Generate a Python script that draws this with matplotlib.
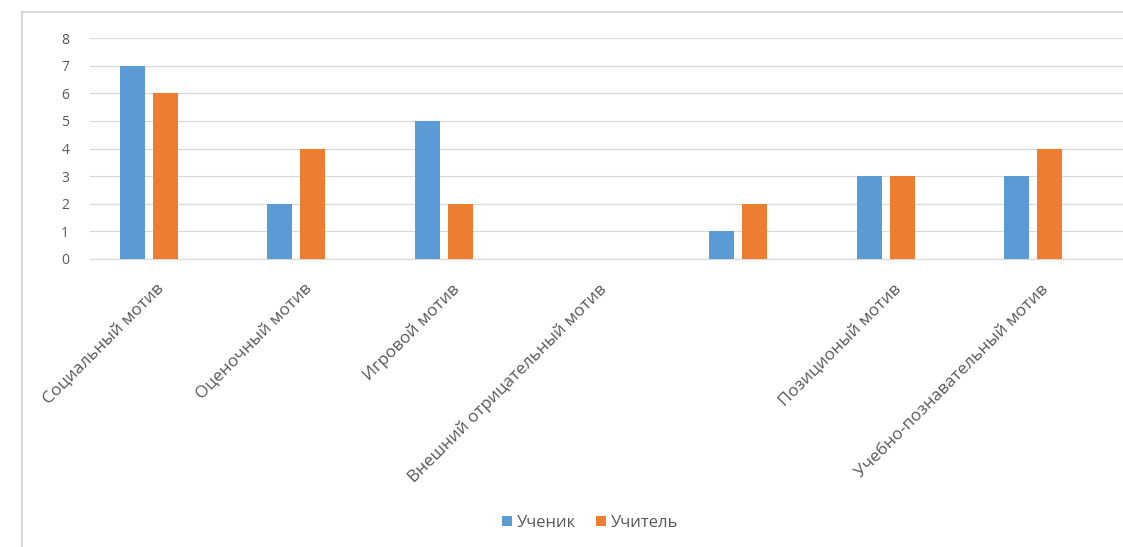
import matplotlib
matplotlib.use("Agg")
import matplotlib.pyplot as plt
import matplotlib.transforms as mtransforms
import numpy as np

plt.rcParams['font.family'] = ['Open Sans', 'DejaVu Sans']

categories = ["Социальный мотив", "Оценочный мотив", "Игровой мотив",
              "Внешний отрицательный мотив", "", "Позиционый мотив",
              "Учебно-познавательный мотив"]
student = [7, 2, 5, 0, 1, 3, 3]
teacher = [6, 4, 2, 0, 2, 3, 4]
series_names = ["Ученик", "Учитель"]
yticks = [0, 1, 2, 3, 4, 5, 6, 7, 8]

W, H = 1123, 547
fig = plt.figure(figsize=(W / 100, H / 100), dpi=100)
ax = fig.add_axes([90 / W, (H - 259) / H, (W - 90) / W, (259 - 38) / H])

x = np.arange(len(categories))
bw = 0.17
off = 0.112
blue = "#5b9bd5"
orange = "#ed7d31"
ax.bar(x - off, student, bw, color=blue, label=series_names[0], zorder=3)
ax.bar(x + off, teacher, bw, color=orange, label=series_names[1], zorder=3)

ax.set_xlim(-0.40, 6.61)
ax.set_ylim(0, 8)
ax.set_yticks(yticks)
ax.yaxis.grid(True, color="#d9d9d9", linewidth=0.9, zorder=0)
ax.set_axisbelow(True)
for s in ["top", "right", "left"]:
    ax.spines[s].set_visible(False)
ax.spines["bottom"].set_color("#d9d9d9")
ax.spines["bottom"].set_linewidth(0.9)

ax.tick_params(axis="y", length=0, pad=15, labelsize=10, labelcolor="#595959")
ax.tick_params(axis="x", length=0, pad=16, labelsize=12.3, labelcolor="#595959")
ax.set_xticks(x)
ax.set_xticklabels(categories, rotation=45, ha="right", va="top")
shift = mtransforms.ScaledTranslation(19 / 100, 0, fig.dpi_scale_trans)
for lab in ax.get_xticklabels():
    lab.set_transform(lab.get_transform() + shift)

leg = fig.legend(loc="center", bbox_to_anchor=(590 / W, 1 - 523 / H), ncol=2,
                 frameon=False, fontsize=12, handlelength=0.6, handleheight=0.6,
                 handletextpad=0.3, columnspacing=1.2)
for t in leg.get_texts():
    t.set_color("#595959")

# chart area border (left and top visible)
fig.add_artist(plt.Line2D([22 / W, 22 / W], [0, 1 - 12 / H], transform=fig.transFigure,
                          color="#d0d0d0", linewidth=1.2))
fig.add_artist(plt.Line2D([22 / W, 1], [1 - 12 / H, 1 - 12 / H], transform=fig.transFigure,
                          color="#d0d0d0", linewidth=1.2))

fig.savefig("out.png", dpi=100)
